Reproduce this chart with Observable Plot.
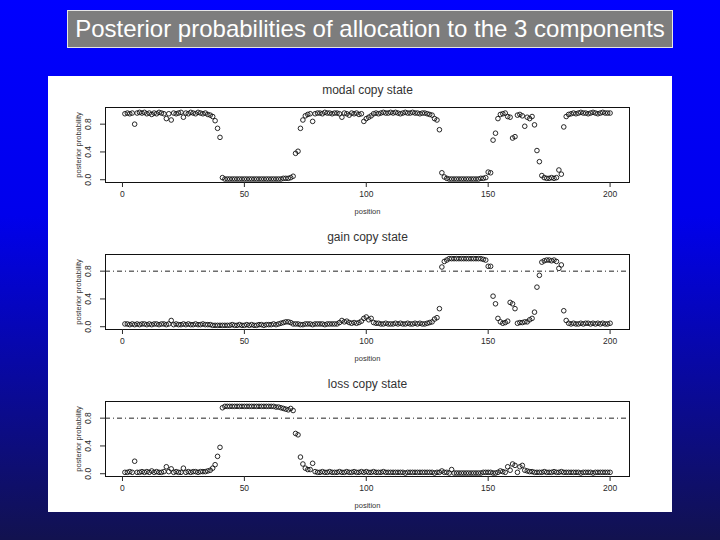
<!DOCTYPE html>
<html><head><meta charset="utf-8">
<script src="https://cdn.jsdelivr.net/npm/d3@7"></script>
<script src="https://cdn.jsdelivr.net/npm/@observablehq/plot@0.6"></script>
<style>
html,body{margin:0;padding:0;}
body{width:720px;height:540px;overflow:hidden;position:relative;background:linear-gradient(to bottom,#0000ff 0%,#0000ec 40%,#12124f 100%);font-family:"Liberation Sans",Arial,sans-serif;}
#title{position:absolute;left:67px;top:10px;width:604px;height:36px;background:#7d7d7d;border:1px solid #e6e6e6;color:#fff;font-size:24px;line-height:36px;text-align:center;white-space:nowrap;}
#panel{position:absolute;left:48px;top:76px;width:624px;height:436px;background:#fff;overflow:hidden;}
#panel svg{display:block;}
</style></head><body>
<div id="title">Posterior probabilities of allocation to the 3 components</div>
<div id="panel"></div>
<script>
const panelTitles = ["modal copy state", "gain copy state", "loss copy state"];
const xTicks = [0, 50, 100, 150, 200];
const yTicks = [0, 0.4, 0.8];
const xLabel = "position";
const yLabel = "posterior probability";
const threshold = 0.8;

const modal = [
0.95,0.96,0.95,0.96,0.80,0.96,0.97,0.96,0.97,0.95,
0.96,0.94,0.96,0.95,0.97,0.96,0.95,0.88,0.95,0.86,
0.96,0.95,0.96,0.97,0.90,0.96,0.95,0.97,0.96,0.95,
0.97,0.96,0.95,0.96,0.94,0.93,0.91,0.85,0.74,0.61,
0.03,0.01,0.01,0.01,0.01,0.01,0.01,0.01,0.01,0.01,
0.01,0.01,0.01,0.01,0.01,0.01,0.01,0.01,0.01,0.01,
0.01,0.01,0.01,0.01,0.01,0.02,0.02,0.02,0.03,0.05,
0.38,0.41,0.74,0.86,0.92,0.94,0.95,0.84,0.95,0.96,
0.96,0.95,0.97,0.96,0.96,0.95,0.96,0.96,0.95,0.90,
0.96,0.95,0.93,0.96,0.95,0.96,0.94,0.95,0.84,0.88,
0.90,0.92,0.95,0.96,0.95,0.96,0.97,0.96,0.96,0.97,
0.96,0.97,0.96,0.95,0.96,0.97,0.96,0.96,0.97,0.96,
0.96,0.95,0.96,0.96,0.95,0.94,0.93,0.88,0.86,0.72,
0.10,0.04,0.02,0.01,0.01,0.01,0.01,0.01,0.01,0.01,
0.01,0.01,0.01,0.01,0.01,0.01,0.02,0.02,0.03,0.11,
0.10,0.57,0.67,0.88,0.94,0.95,0.96,0.91,0.90,0.60,
0.62,0.93,0.94,0.92,0.77,0.90,0.88,0.91,0.79,0.42,
0.26,0.06,0.03,0.02,0.02,0.03,0.02,0.03,0.14,0.08,
0.76,0.91,0.94,0.95,0.96,0.95,0.96,0.97,0.96,0.96,
0.95,0.96,0.97,0.96,0.95,0.96,0.97,0.96,0.96,0.96];

const gain = [
0.04,0.04,0.03,0.04,0.03,0.04,0.03,0.04,0.04,0.03,
0.04,0.03,0.04,0.04,0.03,0.04,0.04,0.03,0.04,0.09,
0.03,0.04,0.03,0.03,0.04,0.03,0.04,0.03,0.03,0.04,
0.03,0.03,0.04,0.03,0.03,0.03,0.02,0.02,0.02,0.02,
0.02,0.02,0.02,0.02,0.03,0.02,0.02,0.03,0.02,0.02,
0.03,0.02,0.03,0.02,0.02,0.03,0.03,0.02,0.03,0.03,
0.03,0.04,0.03,0.04,0.05,0.06,0.07,0.07,0.06,0.04,
0.04,0.04,0.03,0.03,0.04,0.04,0.04,0.03,0.04,0.04,
0.04,0.04,0.03,0.04,0.04,0.04,0.04,0.04,0.06,0.09,
0.07,0.08,0.06,0.05,0.06,0.05,0.06,0.08,0.12,0.14,
0.10,0.12,0.06,0.05,0.05,0.04,0.04,0.05,0.04,0.04,
0.04,0.05,0.04,0.05,0.04,0.04,0.05,0.04,0.04,0.05,
0.04,0.05,0.04,0.04,0.05,0.06,0.07,0.11,0.13,0.26,
0.86,0.94,0.96,0.98,0.98,0.98,0.98,0.98,0.98,0.98,
0.98,0.98,0.98,0.98,0.98,0.98,0.98,0.97,0.96,0.87,
0.87,0.44,0.33,0.12,0.07,0.05,0.06,0.08,0.35,0.33,
0.26,0.05,0.06,0.06,0.07,0.07,0.10,0.12,0.21,0.57,
0.74,0.93,0.95,0.96,0.96,0.95,0.96,0.94,0.84,0.89,
0.23,0.09,0.05,0.04,0.05,0.04,0.04,0.05,0.04,0.05,
0.05,0.04,0.05,0.04,0.05,0.04,0.05,0.04,0.04,0.05];

const loss = [
0.02,0.02,0.03,0.02,0.18,0.02,0.02,0.03,0.02,0.03,
0.02,0.04,0.02,0.03,0.02,0.02,0.03,0.10,0.03,0.07,
0.02,0.03,0.02,0.02,0.08,0.02,0.03,0.02,0.03,0.03,
0.02,0.03,0.03,0.03,0.04,0.05,0.08,0.13,0.25,0.38,
0.95,0.97,0.97,0.97,0.97,0.97,0.97,0.97,0.97,0.97,
0.97,0.97,0.97,0.97,0.97,0.97,0.97,0.97,0.97,0.97,
0.97,0.97,0.96,0.96,0.95,0.94,0.93,0.92,0.94,0.91,
0.58,0.56,0.24,0.14,0.08,0.06,0.06,0.15,0.03,0.02,
0.02,0.03,0.02,0.02,0.03,0.02,0.02,0.02,0.03,0.02,
0.02,0.03,0.02,0.02,0.03,0.02,0.02,0.03,0.02,0.03,
0.02,0.02,0.03,0.02,0.02,0.02,0.03,0.02,0.02,0.02,
0.02,0.02,0.02,0.02,0.02,0.01,0.02,0.02,0.02,0.02,
0.02,0.02,0.02,0.02,0.02,0.02,0.02,0.01,0.02,0.02,
0.04,0.02,0.02,0.01,0.06,0.01,0.01,0.01,0.01,0.01,
0.01,0.01,0.01,0.01,0.01,0.01,0.01,0.02,0.02,0.02,
0.02,0.01,0.01,0.02,0.04,0.03,0.02,0.10,0.05,0.14,
0.12,0.02,0.10,0.12,0.05,0.04,0.03,0.03,0.02,0.02,
0.02,0.02,0.03,0.02,0.02,0.02,0.03,0.02,0.02,0.03,
0.02,0.02,0.02,0.02,0.02,0.02,0.02,0.01,0.02,0.02,
0.02,0.02,0.01,0.02,0.02,0.02,0.02,0.02,0.02,0.02];

const font = '"Liberation Sans", Arial, sans-serif';

function panel(title, values, showRule) {
  const data = values.map((v, i) => ({position: i + 1, prob: v}));
  return Plot.plot({
    width: 624, height: 147,
    marginLeft: 57, marginRight: 43, marginTop: 31, marginBottom: 41,
    style: {background: "transparent", fontFamily: font, color: "#2a2a2a", overflow: "visible"},
    x: {domain: [-6.96, 207.96]},
    y: {domain: [-0.04, 1.04]},
    marks: [
      Plot.frame({stroke: "#111", strokeWidth: 1}),
      Plot.axisX({ticks: xTicks, tickSize: 5, tickPadding: 3, fontSize: 8.5, label: null, tickFormat: d => `${d}`}),
      Plot.axisY({ticks: yTicks, tickSize: 5, tickPadding: 10, tickRotate: -90, fontSize: 8.5, label: null, tickFormat: d3.format(".1f")}),
      showRule ? Plot.ruleY([threshold], {stroke: "#222", strokeWidth: 1, strokeDasharray: "5,3,1,3"}) : null,
      Plot.dot(data, {x: "position", y: "prob", r: 2.3, stroke: "#111", strokeWidth: 0.9}),
      Plot.text([title], {text: d => d, frameAnchor: "top", dy: -17, textAnchor: "middle", lineAnchor: "middle", fontSize: 12, fill: "#333"}),
      Plot.text([xLabel], {text: d => d, frameAnchor: "bottom", dy: 29, textAnchor: "middle", lineAnchor: "middle", fontSize: 7.5, fill: "#333"}),
      Plot.text([yLabel], {text: d => d, frameAnchor: "left", dx: -27, rotate: -90, textAnchor: "middle", lineAnchor: "middle", fontSize: 7.5, fill: "#333"})
    ]
  });
}

const host = document.getElementById("panel");
host.append(panel(panelTitles[0], modal, false));
host.append(panel(panelTitles[1], gain, true));
host.append(panel(panelTitles[2], loss, true));
</script>
</body></html>
